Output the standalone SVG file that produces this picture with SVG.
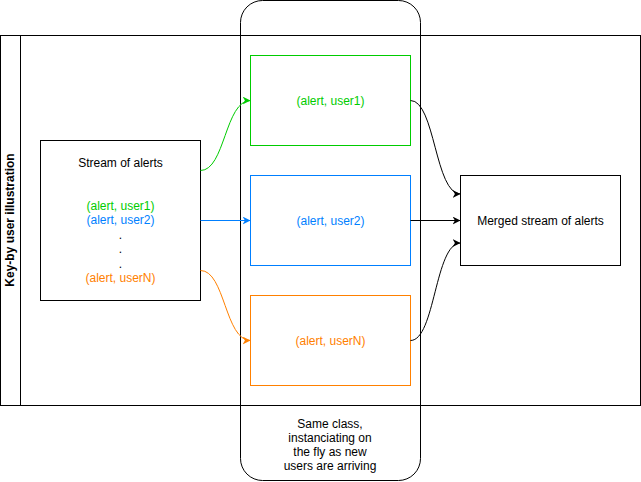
<svg xmlns="http://www.w3.org/2000/svg" width="641" height="482" viewBox="0 0 641 482">
<style>
.t{font-family:"Liberation Sans",Arial,sans-serif;font-size:12px;text-anchor:middle;dominant-baseline:central}
.b{fill:#fff;stroke:#000;stroke-width:1}
.e{fill:none;stroke-width:1}
</style>
<defs>
<marker id="aK" viewBox="0 0 10 10" refX="10" refY="5" markerWidth="8" markerHeight="8" markerUnits="userSpaceOnUse" orient="auto"><path d="M0,0 L10,5 L0,10 L3,5 Z" fill="#000"/></marker>
<marker id="aG" viewBox="0 0 10 10" refX="10" refY="5" markerWidth="8" markerHeight="8" markerUnits="userSpaceOnUse" orient="auto"><path d="M0,0 L10,5 L0,10 L3,5 Z" fill="#00CC00"/></marker>
<marker id="aB" viewBox="0 0 10 10" refX="10" refY="5" markerWidth="8" markerHeight="8" markerUnits="userSpaceOnUse" orient="auto"><path d="M0,0 L10,5 L0,10 L3,5 Z" fill="#007FFF"/></marker>
<marker id="aO" viewBox="0 0 10 10" refX="10" refY="5" markerWidth="8" markerHeight="8" markerUnits="userSpaceOnUse" orient="auto"><path d="M0,0 L10,5 L0,10 L3,5 Z" fill="#FF8000"/></marker>
</defs>
<g id="pool">
<rect x="0.5" y="35.5" width="640" height="370" class="b"/>
<line x1="20.5" y1="35.5" x2="20.5" y2="405.5" stroke="#000"/>
<text class="t" font-weight="bold" transform="translate(10,220) rotate(-90)">Key-by user illustration</text>
</g>
<g id="group">
<rect x="240.5" y="0.5" width="180" height="480" rx="22" ry="22" fill="none" stroke="#000"/>
<text class="t" x="330" y="424">Same class,</text>
<text class="t" x="330" y="438">instanciating on</text>
<text class="t" x="330" y="452">the fly as new</text>
<text class="t" x="330" y="466">users are arriving</text>
</g>
<g id="stream">
<rect x="40.5" y="140.5" width="160" height="160" class="b"/>
<text class="t" x="120.5" y="163">Stream of alerts</text>
<text class="t" x="120.5" y="206" fill="#00CC00">(alert, user1)</text>
<text class="t" x="120.5" y="220" fill="#007FFF">(alert, user2)</text>
<text class="t" x="120.5" y="235">.</text>
<text class="t" x="120.5" y="249">.</text>
<text class="t" x="120.5" y="264">.</text>
<text class="t" x="120.5" y="278" fill="#FF8000">(alert, userN)</text>
</g>
<g id="user1">
<rect x="250.5" y="55.5" width="160" height="90" fill="#fff" stroke="#00CC00"/>
<text class="t" x="330.5" y="101" fill="#00CC00">(alert, user1)</text>
</g>
<g id="user2">
<rect x="250.5" y="175.5" width="160" height="90" fill="#fff" stroke="#007FFF"/>
<text class="t" x="330.5" y="221" fill="#007FFF">(alert, user2)</text>
</g>
<g id="userN">
<rect x="250.5" y="295.5" width="160" height="90" fill="#fff" stroke="#FF8000"/>
<text class="t" x="330.5" y="341" fill="#FF8000">(alert, userN)</text>
</g>
<g id="merged">
<rect x="460.5" y="175.5" width="160" height="90" class="b"/>
<text class="t" x="540.5" y="221">Merged stream of alerts</text>
</g>
<g id="connectors">
<path class="e" d="M200.5,170.5 C225,170.5 225,100.5 250.5,100.5" stroke="#00CC00" marker-end="url(#aG)"/>
<path class="e" d="M200.5,220.5 L250.5,220.5" stroke="#007FFF" marker-end="url(#aB)"/>
<path class="e" d="M200.5,270.5 C225,270.5 225,340.5 250.5,340.5" stroke="#FF8000" marker-end="url(#aO)"/>
<path class="e" d="M410.5,100.5 C435,100.5 435,194 460.5,194" stroke="#000" marker-end="url(#aK)"/>
<path class="e" d="M410.5,220.5 L460.5,220.5" stroke="#000" marker-end="url(#aK)"/>
<path class="e" d="M410.5,340.5 C435,340.5 435,243 460.5,243" stroke="#000" marker-end="url(#aK)"/>
</g>
</svg>
